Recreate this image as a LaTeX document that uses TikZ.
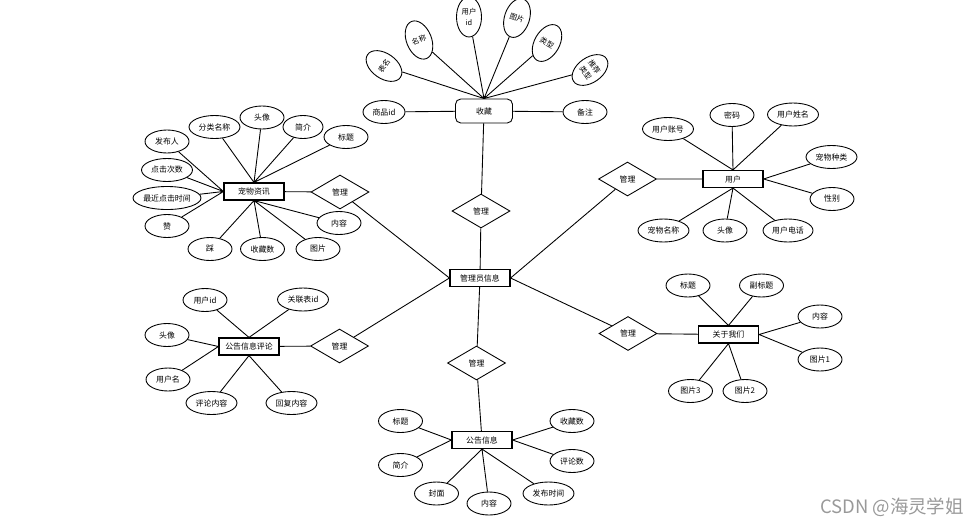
\documentclass[tikz,border=0pt]{standalone}
\usepackage{fontspec}
\setmainfont{Noto Sans CJK SC}
\usetikzlibrary{shapes.geometric}

\tikzset{
  attr/.style={ellipse, draw, inner sep=0pt, minimum width=0.88cm, minimum height=0.46cm},
  wide/.style={minimum width=1.02cm},
  entity/.style={rectangle, draw, line width=0.65pt, inner sep=0pt, minimum width=1.2cm, minimum height=0.34cm},
  rel/.style={diamond, draw, inner sep=0pt, minimum width=1.16cm, minimum height=0.68cm},
  tilt/.style={minimum width=0.5cm, minimum height=0.8cm, rotate=#1, font=\fontsize{4.2pt}{6pt}\selectfont}
}

\begin{document}
\begin{tikzpicture}[x=0.02cm, y=-0.02cm, line width=0.5pt,
  every node/.style={font=\fontsize{4.5pt}{5.5pt}\selectfont}]
  \useasboundingbox (0,0) rectangle (970,521);

  % collect
  \node[entity, line width=0.5pt, rounded corners=3pt, minimum width=1.14cm, minimum height=0.48cm] (sc) at (484,111) {收藏};
  \node[attr, minimum width=0.84cm] (scid) at (384,112) {商品id};
  \node[attr] (scnote) at (585,112) {备注};
  \node[attr, tilt=55] (sctab) at (384,66) {表名};
  \node[attr, tilt=22] (scname) at (419,40) {名称};
  \node[attr, tilt=0, align=center] (scuser) at (469,17) {用户\\id};
  \node[attr, tilt=-18] (scpic) at (517,18) {图片};
  \node[attr, tilt=-30] (sctype) at (547,43) {类型};
  \node[attr, tilt=-55, align=center] (screc) at (590,70) {推荐\\类型};
  \draw (sctab) -- (sc.north) (scname) -- (sc.north) (scuser) -- (sc.north)
        (scpic) -- (sc.north) (sctype) -- (sc.north) (screc) -- (sc.north);
  \draw (scid) -- (sc) -- (scnote);

  % admin
  \node[rel] (m0) at (481,211) {管理};
  \node[entity] (admin) at (480,278) {管理员信息};
  \draw (sc) -- (m0) -- (admin);

  % pet news
  \node[entity] (pet) at (254,191.5) {宠物资讯};
  \node[rel] (m1) at (340,192) {管理};
  \node[attr, wide] (petcat) at (214.5,127) {分类名称};
  \node[attr] (petava) at (262,117.5) {头像};
  \node[attr, minimum width=0.8cm] (petbrief) at (303,127) {简介};
  \node[attr] (pettitle) at (346,137) {标题};
  \node[attr] (petpub) at (167,141.5) {发布人};
  \node[attr, wide] (petclick) at (167,170) {点击次数};
  \node[attr, minimum width=1.36cm] (petlast) at (167,198) {最近点击时间};
  \node[attr] (petup) at (167,226) {赞};
  \node[attr] (petdown) at (210,249) {踩};
  \node[attr] (petfav) at (262.5,249) {收藏数};
  \node[attr] (petpic) at (318,249) {图片};
  \node[attr] (petbody) at (339,223) {内容};
  \draw (petcat) -- (pet.north) (petava) -- (pet.north) (petbrief) -- (pet.north) (pettitle) -- (pet.north);
  \draw (petpub) -- (pet.west) (petclick) -- (pet.west) (petlast) -- (pet.west) (petup) -- (pet.west);
  \draw (petdown) -- (pet.south) (petfav) -- (pet.south) (petpic) -- (pet.south) (petbody) -- (pet.south);
  \draw (pet) -- (m1) -- (admin.west);

  % user
  \node[entity] (user) at (733,179) {用户};
  \node[rel] (m2) at (627.5,179) {管理};
  \node[attr, wide] (useracc) at (668,129) {用户账号};
  \node[attr] (userpwd) at (732,115) {密码};
  \node[attr, wide] (username) at (793,114.5) {用户姓名};
  \node[attr, wide] (userkind) at (831.5,157) {宠物种类};
  \node[attr] (usersex) at (832,199) {性别};
  \node[attr, minimum width=1cm] (usertel) at (788,230.5) {用户电话};
  \node[attr] (userava) at (725,230.5) {头像};
  \node[attr, wide] (userpet) at (663.5,230.5) {宠物名称};
  \draw (useracc) -- (user.north) (userpwd) -- (user.north) (username) -- (user.north);
  \draw (userkind) -- (user.east) (usersex) -- (user.east);
  \draw (usertel) -- (user.south) (userava) -- (user.south) (userpet) -- (user.south);
  \draw (admin.east) -- (m2) -- (user);

  % notice comment
  \node[entity] (cmt) at (249,346.5) {公告信息评论};
  \node[rel] (m3) at (339.5,346) {管理};
  \node[attr] (cmtuid) at (205,300) {用户id};
  \node[attr, wide] (cmtref) at (303,299.5) {关联表id};
  \node[attr] (cmtava) at (167,335) {头像};
  \node[attr] (cmtname) at (168,379.5) {用户名};
  \node[attr, wide] (cmtbody) at (211.5,403) {评论内容};
  \node[attr, wide] (cmtreply) at (291.5,403) {回复内容};
  \draw (cmtuid) -- (cmt.north) (cmtref) -- (cmt.north);
  \draw (cmtava) -- (cmt.west) (cmtname) -- (cmt.west);
  \draw (cmtbody) -- (cmt.south) (cmtreply) -- (cmt.south);
  \draw (cmt) -- (m3) -- (admin.west);

  % about us
  \node[entity] (about) at (728.5,334.5) {关于我们};
  \node[rel] (m4) at (628,333.5) {管理};
  \node[attr] (abtitle) at (688,285.5) {标题};
  \node[attr] (absub) at (761.5,285.5) {副标题};
  \node[attr] (abbody) at (820,316.5) {内容};
  \node[attr] (abpic1) at (820,359.5) {图片1};
  \node[attr] (abpic2) at (745,391) {图片2};
  \node[attr] (abpic3) at (690.5,391) {图片3};
  \draw (abtitle) -- (about.north) (absub) -- (about.north);
  \draw (abbody) -- (about.east) (abpic1) -- (about.east);
  \draw (abpic2) -- (about.south) (abpic3) -- (about.south);
  \draw (admin.east) -- (m4) -- (about);

  % notice
  \node[rel] (m5) at (476.5,363) {管理};
  \node[entity] (note) at (482,440) {公告信息};
  \node[attr] (notetitle) at (400.5,421) {标题};
  \node[attr] (notebrief) at (400.5,465) {简介};
  \node[attr] (notecover) at (436.5,493.5) {封面};
  \node[attr] (notebody) at (489,503.5) {内容};
  \node[attr, wide] (notetime) at (548.5,493.5) {发布时间};
  \node[attr] (notefav) at (572,421) {收藏数};
  \node[attr] (notecmt) at (572,461) {评论数};
  \draw (notetitle) -- (note.west) (notebrief) -- (note.west);
  \draw (notecover) -- (note.south) (notebody) -- (note.south) (notetime) -- (note.south);
  \draw (notefav) -- (note.east) (notecmt) -- (note.east);
  \draw (admin) -- (m5) -- (note);

  \node[font=\fontsize{10.5pt}{12pt}\selectfont, text=black!40] (mark) at (892,507) {CSDN @海灵学姐};
\end{tikzpicture}
\end{document}
